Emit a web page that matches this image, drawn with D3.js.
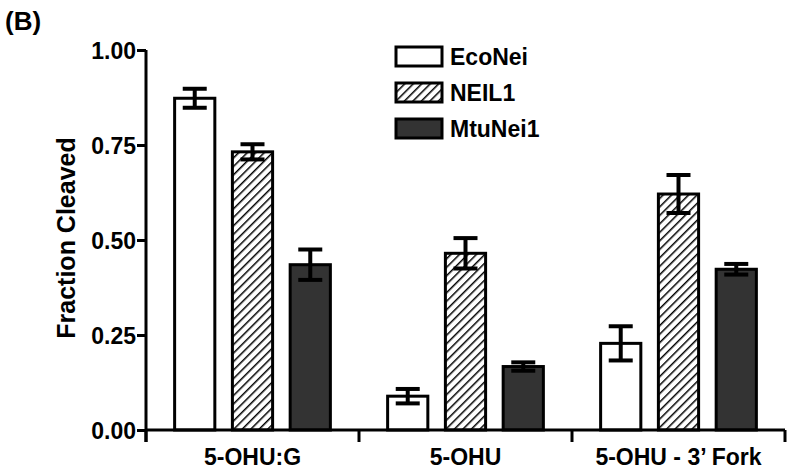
<!DOCTYPE html>
<html>
<head>
<meta charset="utf-8">
<script src="https://cdn.jsdelivr.net/npm/d3@7"></script>
<style>
  body { margin: 0; background: #fff; }
  text { font-family: "Liberation Sans", Arial, sans-serif; font-weight: bold; fill: #000; }
</style>
</head>
<body>
<div id="container"></div>
<script>
const categories = ["5-OHU:G", "5-OHU", "5-OHU - 3\u2019 Fork"]
const series = ["EcoNei", "NEIL1", "MtuNei1"]
const econei = [0.873, 0.089, 0.228]
const econeiErr = [0.025, 0.019, 0.045]
const neil1 = [0.732, 0.465, 0.621]
const neil1Err = [0.02, 0.04, 0.05]
const mtunei1 = [0.435, 0.167, 0.423]
const mtunei1Err = [0.04, 0.011, 0.014]
const yTicks = [0, 0.25, 0.5, 0.75, 1]

const values = [econei, neil1, mtunei1]
const errors = [econeiErr, neil1Err, mtunei1Err]

const w = 792
const h = 475
const mLeft = 146, mRight = 785, mTop = 50, mBottom = 430

const svg = d3.select("#container")
  .append("svg")
  .attr("width", w)
  .attr("height", h)

// hatch for NEIL1
const defs = svg.append("defs")
defs.append("pattern")
  .attr("id", "hatch")
  .attr("patternUnits", "userSpaceOnUse")
  .attr("width", 6)
  .attr("height", 6)
  .attr("patternTransform", "rotate(45)")
  .call(p => {
    p.append("rect").attr("width", 6).attr("height", 6).attr("fill", "#fff")
    p.append("line").attr("x1", 0).attr("y1", 0).attr("x2", 0).attr("y2", 6)
      .attr("stroke", "#000").attr("stroke-width", 3)
  })

const fills = ["#fff", "url(#hatch)", "#333"]

const x0 = d3.scaleBand().domain(categories).range([mLeft, mRight]).padding(0)
const x1 = d3.scaleBand().domain(series).range([0, x0.bandwidth()])
  .paddingInner(0.304).paddingOuter(0.4955)
const y = d3.scaleLinear().domain([0, 1]).range([mBottom, mTop])

const rows = []
categories.forEach((c, i) => {
  series.forEach((s, j) => {
    rows.push({ cat: c, s: s, v: values[j][i], e: errors[j][i], fill: fills[j] })
  })
})

// bars
svg.selectAll("rect.bar")
  .data(rows)
  .enter()
  .append("rect")
  .attr("class", "bar")
  .attr("x", d => x0(d.cat) + x1(d.s))
  .attr("y", d => y(d.v))
  .attr("width", x1.bandwidth())
  .attr("height", d => y(0) - y(d.v))
  .attr("fill", d => d.fill)
  .attr("stroke", "#000")
  .attr("stroke-width", 3)

// error bars
const eb = svg.selectAll("g.err")
  .data(rows)
  .enter()
  .append("g")
  .attr("class", "err")
  .attr("stroke", "#000")
  .attr("stroke-width", 4)
const cx = d => x0(d.cat) + x1(d.s) + x1.bandwidth() / 2
eb.append("line")
  .attr("x1", cx).attr("x2", cx)
  .attr("y1", d => y(d.v + d.e)).attr("y2", d => y(d.v - d.e))
eb.append("line")
  .attr("x1", d => cx(d) - 12).attr("x2", d => cx(d) + 12)
  .attr("y1", d => y(d.v + d.e)).attr("y2", d => y(d.v + d.e))
eb.append("line")
  .attr("x1", d => cx(d) - 12).attr("x2", d => cx(d) + 12)
  .attr("y1", d => y(d.v - d.e)).attr("y2", d => y(d.v - d.e))

// y axis
const yAxis = svg.append("g")
  .attr("transform", `translate(${mLeft},0)`)
  .call(d3.axisLeft(y).tickValues(yTicks).tickFormat(d3.format(".2f")).tickSize(9).tickPadding(1))
yAxis.select(".domain").attr("d", `M0,${mTop}V${mBottom + 12}`)
yAxis.selectAll("line, path").attr("stroke", "#000").attr("stroke-width", 3)
yAxis.selectAll("text").style("font-size", "23px").attr("dy", "0.36em")

// x axis
const xAxis = svg.append("g")
  .attr("transform", `translate(0,${mBottom})`)
  .call(d3.axisBottom(x0).tickValues([]).tickSizeOuter(0))
xAxis.select(".domain").attr("d", `M${mLeft},0H${mRight}`)
xAxis.selectAll("line, path").attr("stroke", "#000").attr("stroke-width", 3)
const xBounds = categories.map(c => x0(c)).concat([mRight])
xAxis.selectAll("line.sep")
  .data(xBounds)
  .enter()
  .append("line")
  .attr("class", "sep")
  .attr("x1", d => d).attr("x2", d => d)
  .attr("y1", 0).attr("y2", 12)
  .attr("stroke", "#000").attr("stroke-width", 3)
xAxis.selectAll("text.cat")
  .data(categories)
  .enter()
  .append("text")
  .attr("class", "cat")
  .attr("x", d => x0(d) + x0.bandwidth() / 2)
  .attr("y", 35)
  .attr("text-anchor", "middle")
  .style("font-size", "23px")
  .text(d => d)

// y title
svg.append("text")
  .attr("transform", `translate(75,${(mTop + mBottom) / 2 - 2}) rotate(-90)`)
  .attr("text-anchor", "middle")
  .style("font-size", "25px")
  .text("Fraction Cleaved")

// panel label
svg.append("text")
  .attr("x", 5)
  .attr("y", 30)
  .style("font-size", "26px")
  .text("(B)")

// legend
const legend = svg.selectAll("g.legend")
  .data(series)
  .enter()
  .append("g")
  .attr("class", "legend")
  .attr("transform", (d, i) => `translate(396,${47 + i * 36})`)
legend.append("rect")
  .attr("width", 46).attr("height", 19)
  .attr("fill", (d, i) => fills[i])
  .attr("stroke", "#000").attr("stroke-width", 3)
legend.append("text")
  .attr("x", 54)
  .attr("y", 18)
  .style("font-size", "23px")
  .text(d => d)
</script>
</body>
</html>
